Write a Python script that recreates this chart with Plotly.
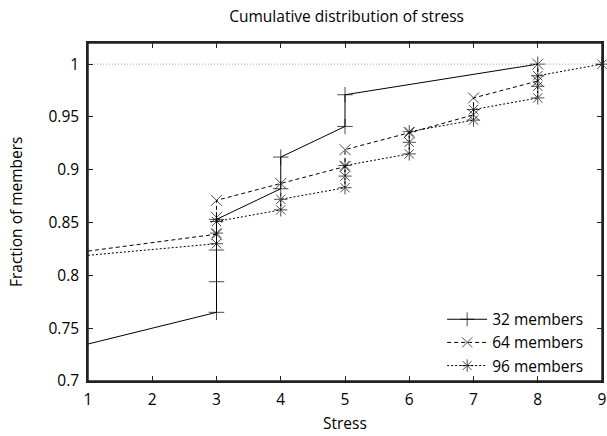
import plotly.graph_objects as go

# stress level of each member, sorted, with the cumulative fraction
stress_32 = [1, 3, 3, 3, 3, 4, 4, 5, 5, 8]
frac_32 = [0.735, 0.765, 0.794, 0.824, 0.853, 0.882, 0.912, 0.941, 0.971, 1.0]

stress_64 = [1, 3, 3, 3, 4, 5, 5, 6, 7, 7, 8, 8]
frac_64 = [0.823, 0.839, 0.855, 0.871, 0.887, 0.903, 0.919, 0.935, 0.952, 0.968, 0.984, 1.0]

stress_96 = [1, 3, 3, 3, 4, 4, 5, 5, 5, 6, 6, 6, 7, 7, 8, 8, 8, 9]
frac_96 = [0.819, 0.830, 0.840, 0.851, 0.862, 0.872, 0.883, 0.894, 0.904,
           0.915, 0.926, 0.936, 0.947, 0.957, 0.968, 0.979, 0.989, 1.0]

ref_x = [1, 9]
ref_y = [1, 1]

y_ticks = [0.7, 0.75, 0.8, 0.85, 0.9, 0.95, 1]
y_labels = ['0.7', '0.75', '0.8', '0.85', '0.9', '0.95', '1']

FONT = 'Open Sans, Liberation Sans, Arial, sans-serif'
FS = 15.5


def marker_sizes(xs, size):
    # gnuplot leaves the points sitting on the left border undrawn
    return [0 if x == 1 else size for x in xs]


fig = go.Figure()

# reference line at 1, put on the mirror axes so they get drawn (same ranges)
fig.add_trace(go.Scatter(
    x=ref_x, y=ref_y, mode='lines', showlegend=False, hoverinfo='skip',
    xaxis='x2', yaxis='y2',
    line=dict(color='#a8a8a8', width=1, dash='1px,2px')
))

series = [
    ('32 members', stress_32, frac_32, 'solid', 'cross-thin'),
    ('64 members', stress_64, frac_64, '4px,3px', 'x-thin'),
    ('96 members', stress_96, frac_96, '2px,2px', 'asterisk'),
]

for name, xs, ys, dash, symbol in series:
    fig.add_trace(go.Scatter(
        x=xs, y=ys, name=name, mode='lines+markers',
        line=dict(color='black', width=1, dash=dash),
        marker=dict(symbol=symbol, size=marker_sizes(xs, 11),
                    color='black', line=dict(color='black', width=1)),
        cliponaxis=False
    ))

axis_style = dict(
    showgrid=False, zeroline=False, showline=True, linecolor='#222222',
    linewidth=1.5, ticks='inside', ticklen=5,
    tickcolor='#222222', tickfont=dict(size=FS, color='black', family=FONT),
    automargin=False
)

fig.update_layout(
    xaxis=dict(range=[1, 9], dtick=1, tick0=1, ticklabelstandoff=4, **axis_style),
    yaxis=dict(range=[0.7, 1.02], tickvals=y_ticks, ticktext=y_labels,
               ticklabelstandoff=4, **axis_style),
    # mirrored ticks on the top and right border
    xaxis2=dict(overlaying='x', side='top', range=[1, 9], dtick=1, tick0=1,
                showticklabels=False, **axis_style),
    yaxis2=dict(overlaying='y', side='right', range=[0.7, 1.02], tickvals=y_ticks,
                showticklabels=False, **axis_style),
)

# plot frame (gnuplot border)
fig.add_shape(type='rect', xref='paper', yref='paper', x0=0, y0=0, x1=1, y1=1,
              line=dict(color='#222222', width=1.5), layer='above')

fig.update_layout(
    width=607, height=436,
    plot_bgcolor='white', paper_bgcolor='white',
    margin=dict(l=88, r=5, t=43, b=55),
    font=dict(family=FONT, size=FS, color='black'),
    title=dict(text='Cumulative distribution of stress', x=0.571, xanchor='center',
               y=0.962, yanchor='middle', font=dict(size=FS, family=FONT)),
    legend=dict(x=0.975, y=-0.005, xanchor='right', yanchor='bottom',
                bgcolor='rgba(0,0,0,0)', font=dict(size=FS, family=FONT),
                tracegroupgap=0, itemwidth=40),
    annotations=[
        dict(text='Stress', xref='paper', yref='paper', x=0.5, y=-0.125,
             xanchor='center', yanchor='middle', showarrow=False,
             font=dict(size=FS, family=FONT)),
        dict(text='Fraction of members', xref='paper', yref='paper', x=-0.14, y=0.5,
             xanchor='center', yanchor='middle', textangle=-90, showarrow=False,
             font=dict(size=FS, family=FONT)),
    ]
)

# the page body has a default 8px margin, drop it so the figure fills the window
fig.write_html('out.html', config={'displayModeBar': False},
               post_script="document.body.style.margin='0';")
